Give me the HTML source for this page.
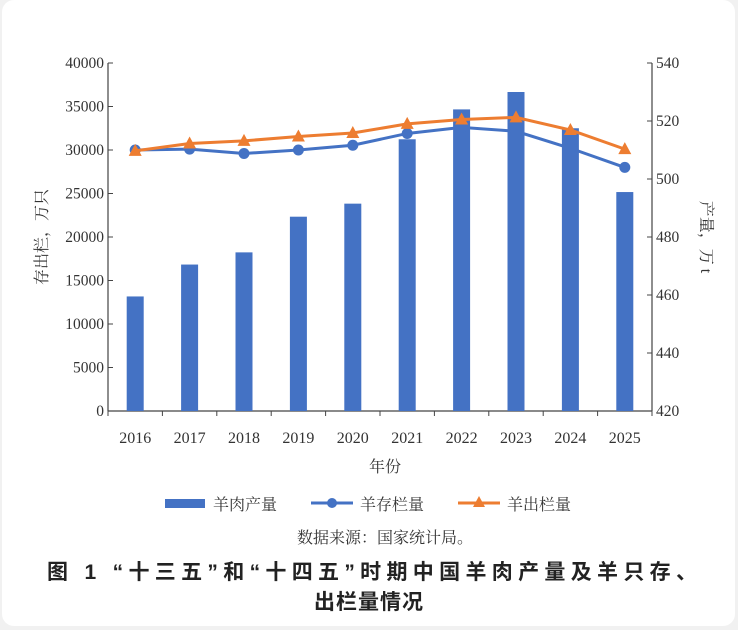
<!DOCTYPE html>
<html><head><meta charset="utf-8">
<style>
body{margin:0;background:#f1f1f1;}
#card{position:absolute;left:2px;top:0;width:733px;height:626px;background:#fff;border-radius:12px;}
svg{position:absolute;left:0;top:0;}
</style></head>
<body>
<div id="card"></div>
<svg id="c" width="738" height="630" style="font-family:'Liberation Serif','Noto Serif CJK SC',serif" font-family="Liberation Serif, Noto Serif CJK SC, serif" fill="#333"></svg>
<script>
const years=['2016','2017','2018','2019','2020','2021','2022','2023','2024','2025'];
const meat=[459.5,470.5,474.7,487,491.5,513.7,524,530,517.5,495.5];
const stock=[30000,30100,29600,30000,30550,31900,32600,32150,30200,28000];
const slaughter=[29900,30750,31050,31550,31950,33000,33500,33750,32300,30100];
const leftTicks=[0,5000,10000,15000,20000,25000,30000,35000,40000];
const rightTicks=[420,440,460,480,500,520,540];
const NS='http://www.w3.org/2000/svg';
const svg=document.getElementById('c');
function mk(t,a,p){const e=document.createElementNS(NS,t);for(const k in a)e.setAttribute(k,a[k]);(p||svg).appendChild(e);return e;}
const X0=108,X1=652,Y0=411,Y1=63;
const band=(X1-X0)/years.length;
const xc=i=>X0+band*(i+0.5);
const yL=v=>Y0-(v-0)/(40000)*(Y0-Y1);
const yR=v=>Y0-(v-420)/(120)*(Y0-Y1);
let e=mk('line',{x1:X0,y1:Y1,x2:X0,y2:Y0,stroke:'#444','stroke-width':1.2});

e=mk('line',{x1:X1,y1:Y1,x2:X1,y2:Y0,stroke:'#444','stroke-width':1.2});

e=mk('line',{x1:X0,y1:Y0,x2:X1,y2:Y0,stroke:'#444','stroke-width':1.2});

const SERIF='Liberation Serif, Noto Serif CJK SC, serif';
leftTicks.forEach(v=>{const y=yL(v);mk('line',{x1:X0,y1:y,x2:X0+5,y2:y,stroke:'#444'});
 const t=mk('text',{x:X0-4,y:y+5,'text-anchor':'end','font-size':15.5,'font-family':SERIF,fill:'#333'});t.textContent=v;
 });
rightTicks.forEach(v=>{const y=yR(v);mk('line',{x1:X1-5,y1:y,x2:X1,y2:y,stroke:'#444'});
 const t=mk('text',{x:X1+4,y:y+5,'font-size':15.5,'font-family':SERIF,fill:'#333'});t.textContent=v;
 });
for(let i=0;i<=years.length;i++){mk('line',{x1:X0+band*i,y1:Y0,x2:X0+band*i,y2:Y0+5,stroke:'#444'});}
years.forEach((y,i)=>{const b=mk('rect',{x:xc(i)-8.5,y:yR(meat[i]),width:17,height:Y0-yR(meat[i]),fill:'#4472c4'});
 
 const t=mk('text',{x:xc(i),y:443,'text-anchor':'middle','font-size':16,'font-family':SERIF,fill:'#333'});t.textContent=y;
 });
function line(arr,color,name,marker){
 const p=mk('polyline',{points:arr.map((v,i)=>xc(i)+','+yL(v)).join(' '),fill:'none',stroke:color,'stroke-width':3});
 
 arr.forEach((v,i)=>{const x=xc(i),y=yL(v);let m;
  if(marker==='c')m=mk('circle',{cx:x,cy:y,r:5.5,fill:color});
  else m=mk('polygon',{points:`${x},${y-7} ${x-6.5},${y+5} ${x+6.5},${y+5}`,fill:color});
  });
}
line(stock,'#4472c4','stock','c');
line(slaughter,'#ed7d31','slaughter','t');
function txt(x,y,s,attrs,name){const t=mk('text',Object.assign({x:x,y:y,'font-family':SERIF,fill:'#333'},attrs));t.textContent=s;
 return t;}
txt(0,0,'存出栏，万只',{'font-size':16,'text-anchor':'middle',transform:'translate(47,237) rotate(-90)'},'left-axis-title');
txt(0,0,'产量，万 t',{'font-size':16,'text-anchor':'middle',transform:'translate(701,237) rotate(90)'},'right-axis-title');
txt(385,472,'年份',{'font-size':16,'text-anchor':'middle'},'x-axis-title');
e=mk('rect',{x:165,y:499,width:40,height:9,fill:'#4472c4'});
txt(213,510,'羊肉产量',{'font-size':16},'legend-meat');
mk('line',{x1:311,y1:503,x2:353,y2:503,stroke:'#4472c4','stroke-width':3});
mk('circle',{cx:332,cy:503,r:5,fill:'#4472c4'});
txt(360,510,'羊存栏量',{'font-size':16},'legend-stock');
mk('line',{x1:458,y1:503,x2:500,y2:503,stroke:'#ed7d31','stroke-width':3});
mk('polygon',{points:'479,496 473,507 485,507',fill:'#ed7d31'});
txt(507,510,'羊出栏量',{'font-size':16},'legend-slaughter');
txt(385,543,'数据来源：国家统计局。',{'font-size':16,'text-anchor':'middle'},'source-note');
const SANS='Liberation Sans, Noto Sans CJK SC, sans-serif';
txt(372,579,'图 1 “十三五”和“十四五”时期中国羊肉产量及羊只存、',{'font-size':21,'text-anchor':'middle','font-family':SANS,'font-weight':'bold',fill:'#222','textLength':650,'lengthAdjust':'spacing'},'figure-title-line1');
txt(369,609,'出栏量情况',{'font-size':21,'text-anchor':'middle','font-family':SANS,'font-weight':'bold',fill:'#222','letter-spacing':1},'figure-title-line2');
</script>
</body></html>
